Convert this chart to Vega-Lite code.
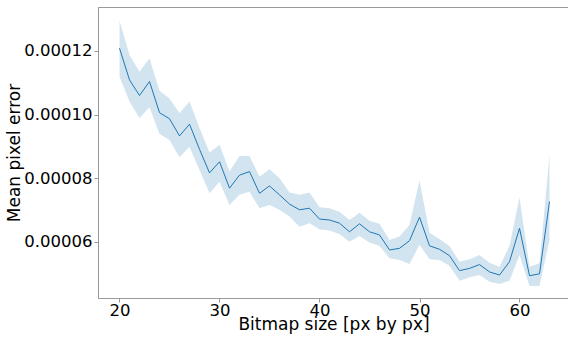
{
  "$schema": "https://vega.github.io/schema/vega-lite/v6.json",
  "autosize": "none",
  "padding": {"left": 98, "top": 7, "right": 0, "bottom": 39},
  "width": 471,
  "height": 291,
  "config": {
    "view": {"stroke": "#999999", "strokeWidth": 1},
    "axis": {
      "labelFont": "DejaVu Sans",
      "titleFont": "DejaVu Sans",
      "labelFontSize": 16.5,
      "titleFontSize": 17,
      "titleFontWeight": "normal",
      "labelColor": "#000000",
      "titleColor": "#000000",
      "grid": false,
      "domainColor": "#999999",
      "tickColor": "#999999",
      "tickSize": 4
    }
  },
  "data": {
    "values": [
      {"x": 20, "y": 120.85, "lo": 111.9, "hi": 129.5},
      {"x": 21, "y": 110.9, "lo": 104.1, "hi": 118.7},
      {"x": 22, "y": 106.0, "lo": 98.9, "hi": 113.5},
      {"x": 23, "y": 110.4, "lo": 102.3, "hi": 117.7},
      {"x": 24, "y": 100.6, "lo": 93.9, "hi": 107.5},
      {"x": 25, "y": 98.7, "lo": 92.0, "hi": 105.1},
      {"x": 26, "y": 93.3, "lo": 86.6, "hi": 100.4},
      {"x": 27, "y": 97.0, "lo": 89.9, "hi": 104.1},
      {"x": 28, "y": 89.1, "lo": 82.6, "hi": 95.8},
      {"x": 29, "y": 81.7, "lo": 75.3, "hi": 88.1},
      {"x": 30, "y": 85.2, "lo": 78.9, "hi": 90.5},
      {"x": 31, "y": 76.9, "lo": 71.6, "hi": 82.1},
      {"x": 32, "y": 81.0, "lo": 74.8, "hi": 87.0},
      {"x": 33, "y": 82.1, "lo": 75.8, "hi": 87.0},
      {"x": 34, "y": 75.3, "lo": 70.6, "hi": 80.5},
      {"x": 35, "y": 77.6, "lo": 71.6, "hi": 82.8},
      {"x": 36, "y": 74.8, "lo": 70.1, "hi": 80.0},
      {"x": 37, "y": 71.9, "lo": 68.0, "hi": 75.5},
      {"x": 38, "y": 70.1, "lo": 64.8, "hi": 74.8},
      {"x": 39, "y": 70.6, "lo": 65.9, "hi": 75.5},
      {"x": 40, "y": 67.2, "lo": 64.0, "hi": 70.9},
      {"x": 41, "y": 66.9, "lo": 63.6, "hi": 70.6},
      {"x": 42, "y": 65.9, "lo": 62.5, "hi": 69.5},
      {"x": 43, "y": 63.2, "lo": 60.1, "hi": 66.9},
      {"x": 44, "y": 65.7, "lo": 61.9, "hi": 69.2},
      {"x": 45, "y": 63.2, "lo": 59.8, "hi": 66.7},
      {"x": 46, "y": 62.2, "lo": 58.7, "hi": 65.7},
      {"x": 47, "y": 57.5, "lo": 54.9, "hi": 60.6},
      {"x": 48, "y": 58.0, "lo": 54.3, "hi": 61.7},
      {"x": 49, "y": 60.4, "lo": 53.1, "hi": 65.3},
      {"x": 50, "y": 67.8, "lo": 59.1, "hi": 79.3},
      {"x": 51, "y": 58.8, "lo": 54.6, "hi": 62.9},
      {"x": 52, "y": 57.7, "lo": 54.3, "hi": 60.9},
      {"x": 53, "y": 55.7, "lo": 52.5, "hi": 58.7},
      {"x": 54, "y": 51.0, "lo": 47.8, "hi": 53.8},
      {"x": 55, "y": 51.7, "lo": 48.9, "hi": 54.6},
      {"x": 56, "y": 52.9, "lo": 49.6, "hi": 55.9},
      {"x": 57, "y": 50.6, "lo": 47.5, "hi": 53.5},
      {"x": 58, "y": 49.6, "lo": 46.8, "hi": 52.2},
      {"x": 59, "y": 53.8, "lo": 47.8, "hi": 58.7},
      {"x": 60, "y": 64.3, "lo": 55.9, "hi": 74.0},
      {"x": 61, "y": 49.4, "lo": 46.2, "hi": 52.2},
      {"x": 62, "y": 50.0, "lo": 46.2, "hi": 53.3},
      {"x": 63, "y": 72.7, "lo": 60.6, "hi": 87.3}
    ]
  },
  "transform": [
    {"calculate": "datum.y * 1e-6", "as": "ys"},
    {"calculate": "datum.lo * 1e-6", "as": "los"},
    {"calculate": "datum.hi * 1e-6", "as": "his"}
  ],
  "layer": [
    {
      "mark": {"type": "area", "color": "#1f77b4", "opacity": 0.2},
      "encoding": {
        "x": {"field": "x", "type": "quantitative", "scale": {"domain": [17.85, 64.95], "nice": false, "zero": false}, "axis": {"values": [20, 30, 40, 50, 60], "title": "Bitmap size [px by px]", "labelPadding": 0, "titlePadding": -2}},
        "y": {"field": "los", "type": "quantitative", "scale": {"domain": [0.0000424, 0.0001338], "nice": false, "zero": false}, "axis": {"values": [0.00006, 0.00008, 0.0001, 0.00012], "format": ".5f", "title": "Mean pixel error", "labelPadding": 2, "titlePadding": 0}},
        "y2": {"field": "his"}
      }
    },
    {
      "mark": {"type": "line", "color": "#1f77b4", "strokeWidth": 1},
      "encoding": {
        "x": {"field": "x", "type": "quantitative"},
        "y": {"field": "ys", "type": "quantitative"}
      }
    }
  ]
}
